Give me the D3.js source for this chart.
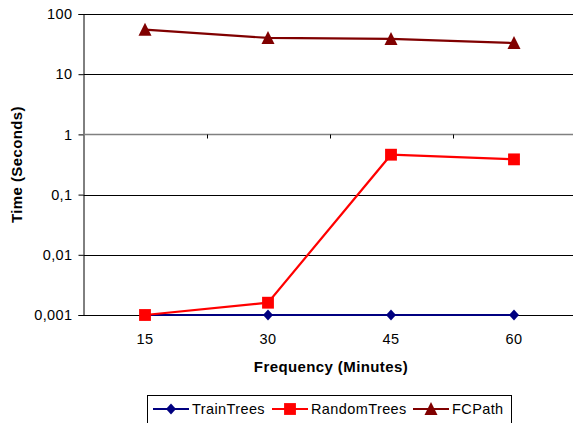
<!DOCTYPE html>
<html>
<head>
<meta charset="utf-8">
<script src="https://cdn.jsdelivr.net/npm/d3@7"></script>
<style>
  body { margin: 0; background: #fff; }
  text { font-family: "Liberation Sans", Arial, sans-serif; fill: #000; }
</style>
</head>
<body>
<div id="chart"></div>
<script>
// data
const frequencies = ["15", "30", "45", "60"];
const trainTrees = [0.001, 0.001, 0.001, 0.001];
const randomTrees = [0.001, 0.0016, 0.46, 0.385];
const fcPath = [55, 40, 38.5, 33];
const yTicks = [0.001, 0.01, 0.1, 1, 10, 100];
const yTickLabels = ["0,001", "0,01", "0,1", "1", "10", "100"];

const series = [
  { name: "TrainTrees", values: trainTrees, color: "#000080", shape: "diamond" },
  { name: "RandomTrees", values: randomTrees, color: "#ff0000", shape: "square" },
  { name: "FCPath", values: fcPath, color: "#800000", shape: "triangle" }
];

let W = 573, H = 423;
let plot = { left: 83.5, right: 575.5, top: 14, bottom: 315 };
const labelSize = 14.5, titleSize = 15;

let svg = d3.select("#chart").append("svg")
  .attr("width", W).attr("height", H);

const x = d3.scaleBand().domain(frequencies).range([plot.left, plot.right]);
const y = d3.scaleLog().domain([0.001, 100]).range([plot.bottom, plot.top]);

// gridlines
svg.append("g").selectAll("line")
  .data(yTicks.filter(d => d !== 1))
  .enter().append("line")
  .attr("x1", plot.left).attr("x2", plot.right)
  .attr("y1", d => Math.round(y(d)) + 0.5).attr("y2", d => Math.round(y(d)) + 0.5)
  .attr("stroke", "#000").attr("stroke-width", 1);

// y axis
const yAxis = svg.append("g")
  .attr("transform", `translate(${plot.left},0)`)
  .call(d3.axisLeft(y).tickValues(yTicks)
    .tickFormat((d, i) => yTickLabels[i]).tickSize(5).tickPadding(6));
yAxis.select(".domain").attr("stroke", "#000");
yAxis.selectAll(".tick line").attr("stroke", "#000");
yAxis.selectAll(".tick text").attr("font-size", labelSize)
  .attr("letter-spacing", 0.4)
  .attr("font-family", "Liberation Sans, Arial, sans-serif");

// category axis crosses at 1
const crossY = Math.round(y(1)) + 0.5;
svg.append("line")
  .attr("x1", plot.left).attr("x2", plot.right)
  .attr("y1", crossY).attr("y2", crossY)
  .attr("stroke", "#808080").attr("stroke-width", 1.5);
svg.append("g").selectAll("line")
  .data(frequencies.slice(1))
  .enter().append("line")
  .attr("x1", d => Math.round(x(d)) + 0.5).attr("x2", d => Math.round(x(d)) + 0.5)
  .attr("y1", crossY).attr("y2", crossY + 4)
  .attr("stroke", "#000");

// category labels at the bottom
svg.append("g").selectAll("text")
  .data(frequencies)
  .enter().append("text")
  .attr("x", d => x(d) + x.bandwidth() / 2)
  .attr("y", 344)
  .attr("text-anchor", "middle")
  .attr("font-size", labelSize)
  .attr("letter-spacing", 0.4)
  .text(d => d);

// axis titles
svg.append("text")
  .attr("x", 331).attr("y", 372)
  .attr("text-anchor", "middle")
  .attr("font-size", titleSize).attr("font-weight", "bold")
  .attr("letter-spacing", 0.4)
  .text("Frequency (Minutes)");

svg.append("text")
  .attr("transform", `translate(22,${(plot.top + plot.bottom) / 2}) rotate(-90)`)
  .attr("text-anchor", "middle")
  .attr("font-size", titleSize).attr("font-weight", "bold")
  .attr("letter-spacing", 0.4)
  .text("Time (Seconds)");

const cx = d => x(d) + x.bandwidth() / 2;
const line = d3.line()
  .x(d => d[0]).y(d => d[1]);

// marker shapes sized like the reference
const diamondType = { draw(ctx) {
  ctx.moveTo(0, -5.5); ctx.lineTo(5, 0); ctx.lineTo(0, 5.5); ctx.lineTo(-5, 0); ctx.closePath();
} };
const triangleType = { draw(ctx) {
  ctx.moveTo(0, -7); ctx.lineTo(6.5, 6); ctx.lineTo(-6.5, 6); ctx.closePath();
} };
const symbolFor = {
  diamond: d3.symbol().type(diamondType),
  square: d3.symbol().type(d3.symbolSquare).size(140),
  triangle: d3.symbol().type(triangleType)
};

series.forEach(s => {
  const pts = s.values.map((v, i) => [cx(frequencies[i]), y(v)]);
  svg.append("path")
    .attr("d", line(pts))
    .attr("fill", "none")
    .attr("stroke", s.color)
    .attr("stroke-width", 2.2);
  svg.append("g").selectAll("path")
    .data(pts)
    .enter().append("path")
    .attr("transform", d => `translate(${d[0]},${d[1]})`)
    .attr("d", symbolFor[s.shape])
    .attr("fill", s.color);
});

// legend
const legend = svg.append("g");
legend.append("rect")
  .attr("x", 147.5).attr("y", 395.5)
  .attr("width", 364).attr("height", 40)
  .attr("fill", "#fff").attr("stroke", "#000");

const legendX = [153, 272, 413];
series.forEach((s, i) => {
  const lx = legendX[i], ly = 409;
  legend.append("line")
    .attr("x1", lx).attr("x2", lx + 36)
    .attr("y1", ly).attr("y2", ly)
    .attr("stroke", s.color).attr("stroke-width", 2.2);
  legend.append("path")
    .attr("transform", `translate(${lx + 18},${ly})`)
    .attr("d", symbolFor[s.shape])
    .attr("fill", s.color);
  legend.append("text")
    .attr("x", lx + 39).attr("y", ly + 5)
    .attr("font-size", labelSize)
    .attr("letter-spacing", 0.4)
    .text(s.name);
});
</script>
</body>
</html>
